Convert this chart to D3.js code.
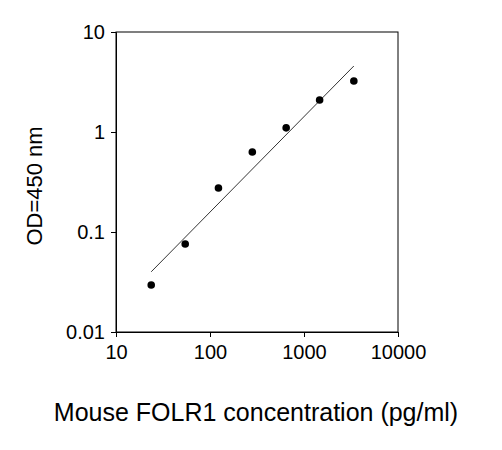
<!DOCTYPE html>
<html><head><meta charset="utf-8">
<script src="https://cdn.jsdelivr.net/npm/d3@7"></script>
<style>body{margin:0;background:#fff}svg{font-family:"Liberation Sans",Arial,sans-serif}</style>
</head><body><svg id="c" width="502" height="450"></svg>
<script>
const concentrations=[23.7,54.5,123,282,646,1466,3390];
const odValues=[0.0295,0.0759,0.275,0.63,1.1,2.09,3.24];
const fitX=[23.7,3390];
const fitY=[0.04,4.57];
const xTicks=[10,100,1000,10000];
const yTicks=[0.01,0.1,1,10];
const yTickLabels=["0.01","0.1","1","10"];

const svg=d3.select("#c");
const L=116,R=398,T=32,B=332;
const x=d3.scaleLog().domain([10,10000]).range([L,R]);
const y=d3.scaleLog().domain([0.01,10]).range([B,T]);

svg.append("rect").attr("x",L).attr("y",T).attr("width",R-L).attr("height",B-T)
  .attr("fill","none").attr("stroke","#000").attr("stroke-width",1);

const xa=svg.append("g").attr("transform",`translate(0,${B})`)
  .call(d3.axisBottom(x).tickValues(xTicks).tickFormat(d3.format("d")).tickSize(5).tickPadding(8));
const ya=svg.append("g").attr("transform",`translate(${L},0)`)
  .call(d3.axisLeft(y).tickValues(yTicks).tickFormat((d,i)=>yTickLabels[i]).tickSize(5).tickPadding(6));
[xa,ya].forEach(a=>{a.selectAll("text").attr("font-size",20).attr("font-family","Liberation Sans, Arial, sans-serif").attr("fill","#000");
  a.selectAll("line,path").attr("stroke","#000");});

svg.append("line").attr("x1",x(fitX[0])).attr("y1",y(fitY[0])).attr("x2",x(fitX[1])).attr("y2",y(fitY[1]))
  .attr("stroke","#000").attr("stroke-width",0.8);

svg.selectAll("circle.p").data(concentrations).enter().append("circle")
  .attr("cx",d=>x(d)).attr("cy",(d,i)=>y(odValues[i])).attr("r",3.8).attr("fill","#000");

svg.append("text").attr("x",256).attr("y",421).attr("text-anchor","middle")
  .attr("font-size",25).text("Mouse FOLR1 concentration (pg/ml)");
svg.append("text").attr("transform","translate(42,186) rotate(-90)").attr("text-anchor","middle")
  .attr("font-size",22).text("OD=450 nm");
</script></body></html>
